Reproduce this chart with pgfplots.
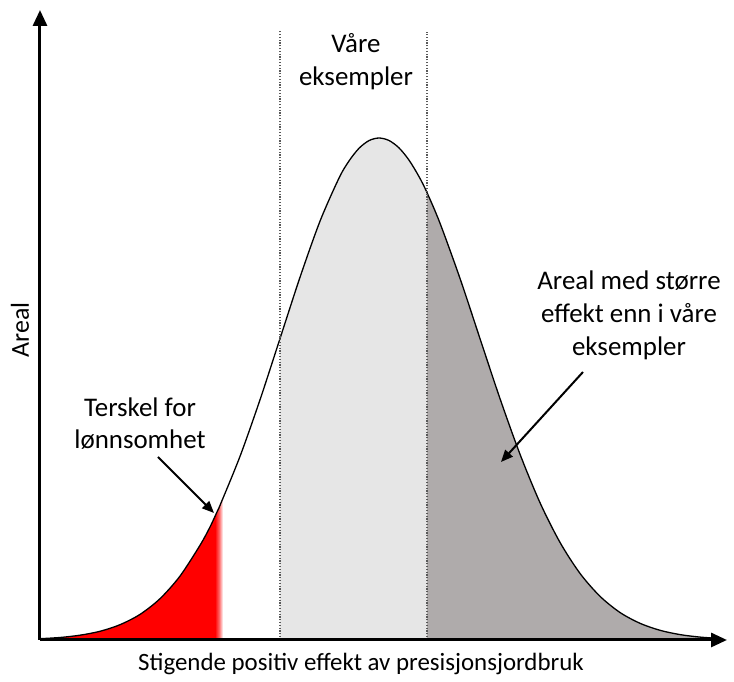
\documentclass[border=0pt]{standalone}
\usepackage{fontspec}
\setmainfont{Carlito}
\usepackage{pgfplots}
\pgfplotsset{compat=1.18}
\usepackage{pgfplotstable}
\usetikzlibrary{arrows.meta}
\definecolor{lightfill}{HTML}{E6E6E6}
\definecolor{darkfill}{HTML}{AFABAB}

\pgfplotstableread{
x h
40 1.3
60 2.5
80 4.8
100 8.7
120 15.3
140 25.6
160 41.3
180 63.9
200 94.7
210 113
218 130.2
220 134.6
240 183.6
260 240.2
280 301.4
300 362.7
320 418.8
339 461.9
349 479.0
359 491.7
369 499.4
379 502
389 499.5
399 492.1
409 479.9
419 463.4
427 447.4
440 416.8
460 361.6
480 301.4
500 241.4
520 185.8
540 137.3
560 97.6
580 66.6
600 43.7
620 27.5
640 16.7
660 9.7
680 5.4
700 2.9
720 1.5
}\curve

\pgfplotstableread{
x h
40 1.3
60 2.5
80 4.8
100 8.7
120 15.3
140 25.6
160 41.3
180 63.9
200 94.7
210 113
215 123.8
}\redpart

\pgfplotstableread{
x h
215 123.8
219 132.6
223 141.4
}\fadepart

\pgfplotstableread{
x h
280 301.4
300 362.7
320 418.8
339 461.9
349 479.0
359 491.7
369 499.4
379 502
389 499.5
399 492.1
409 479.9
419 463.4
427 447.4
}\midpart

\pgfplotstableread{
x h
427 447.4
440 416.8
460 361.6
480 301.4
500 241.4
520 185.8
540 137.3
560 97.6
580 66.6
600 43.7
620 27.5
640 16.7
660 9.7
680 5.4
700 2.9
720 1.5
}\rightpart

\begin{document}
\begin{tikzpicture}
\begin{axis}[
  width=687bp, height=630bp, scale only axis,
  xmin=40, xmax=727, ymin=0, ymax=630,
  axis lines=left,
  axis line style={line width=3bp, -{Triangle[length=16bp,width=14bp]}},
  xtick=\empty, ytick=\empty,
  clip=false,
  axis on top,
]
\path (axis cs:0,-42) rectangle (axis cs:734,640);
\addplot[draw=none, fill=red, smooth] table[x=x,y=h] {\redpart} \closedcycle;
\addplot[draw=none, left color=red, right color=white, middle color=red!60!white] table[x=x,y=h] {\fadepart} \closedcycle;
\addplot[draw=none, fill=lightfill, smooth] table[x=x,y=h] {\midpart} \closedcycle;
\addplot[draw=none, fill=darkfill, smooth] table[x=x,y=h] {\rightpart} \closedcycle;
\addplot[black, line width=1.3bp, smooth] table[x=x,y=h] {\curve};
\addplot[black!65, line width=1.8bp, dash pattern=on 1.2bp off 1.6bp] coordinates {(280,0) (280,610)};
\addplot[black!65, line width=1.8bp, dash pattern=on 1.2bp off 1.6bp] coordinates {(427,0) (427,608)};

\draw[line width=2bp, -{Triangle[length=12bp,width=10bp]}] (axis cs:158,183) -- (axis cs:214,127);
\draw[line width=2bp, -{Triangle[length=12bp,width=10bp]}] (axis cs:583,268) -- (axis cs:501,178);

\node[font=\fontsize{27}{33}\selectfont, align=center] at (axis cs:356,578) {Våre\\eksempler};
\node[font=\fontsize{27}{32}\selectfont, align=center] at (axis cs:140,216) {Terskel for\\lønnsomhet};
\node[font=\fontsize{27}{33}\selectfont, align=center] at (axis cs:629,325) {Areal med større\\effekt enn i våre\\eksempler};
\node[font=\fontsize{25}{30}\selectfont] at (axis cs:361,-24) {Stigende positiv effekt av presisjonsjordbruk};
\node[font=\fontsize{26}{30}\selectfont, rotate=90] at (axis cs:20,310) {Areal};
\end{axis}
\end{tikzpicture}
\end{document}
